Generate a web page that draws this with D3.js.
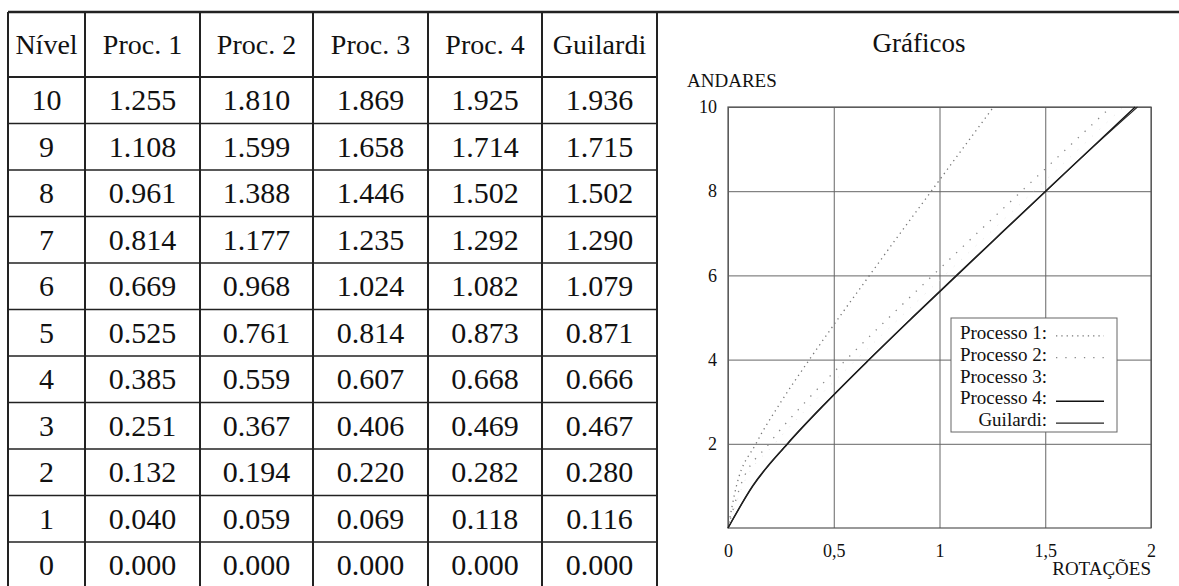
<!DOCTYPE html>
<html lang="pt">
<head>
  <meta charset="UTF-8">
  <title>Rotações por nível</title>
  <style>
    body { margin: 0; background: #fff; }
    svg { display: block; font-family: "Liberation Serif", "Times New Roman", serif; }
    .cell { font-size: 30px; fill: #111; }
    .cell.head { font-size: 28px; }
    .tline { stroke: #222; }
    .grid line { stroke: #666; stroke-width: 1px; }
    .grid path { display: none; }
    .tick text { font-size: 18px; fill: #111; font-family: "Liberation Serif", serif; }
    .legend text { font-size: 19px; fill: #111; }
  </style>
</head>
<body>
  <svg width="1179" height="586"></svg>
  <script src="https://d3js.org/d3.v7.min.js"></script>
  <script>
    // table data
    const headers = ["Nível", "Proc. 1", "Proc. 2", "Proc. 3", "Proc. 4", "Guilardi"];
    const levels = [10, 9, 8, 7, 6, 5, 4, 3, 2, 1, 0];
    const proc1 = [1.255, 1.108, 0.961, 0.814, 0.669, 0.525, 0.385, 0.251, 0.132, 0.040, 0.000];
    const proc2 = [1.810, 1.599, 1.388, 1.177, 0.968, 0.761, 0.559, 0.367, 0.194, 0.059, 0.000];
    const proc3 = [1.869, 1.658, 1.446, 1.235, 1.024, 0.814, 0.607, 0.406, 0.220, 0.069, 0.000];
    const proc4 = [1.925, 1.714, 1.502, 1.292, 1.082, 0.873, 0.668, 0.469, 0.282, 0.118, 0.000];
    const guilardi = [1.936, 1.715, 1.502, 1.290, 1.079, 0.871, 0.666, 0.467, 0.280, 0.116, 0.000];
    const seriesNames = ["Processo 1:", "Processo 2:", "Processo 3:", "Processo 4:", "Guilardi:"];
    const xTicks = [0, 0.5, 1, 1.5, 2];
    const yTicks = [2, 4, 6, 8, 10];

    const columns = [levels, proc1, proc2, proc3, proc4, guilardi];
    const svg = d3.select("svg");

    // ---------- table ----------
    const tableTop = 12, headBottom = 77, rowH = 46.5;
    const colEdges = [8, 85, 200, 313, 428, 542, 657];
    const rowY = d3.scaleBand().domain(d3.range(levels.length))
      .range([headBottom, headBottom + rowH * levels.length]);
    const fmt = d3.format(".3f");

    const table = svg.append("g");
    // top rule across the whole page
    table.append("line").attr("class", "tline")
      .attr("x1", colEdges[0]).attr("x2", 1179).attr("y1", tableTop).attr("y2", tableTop)
      .attr("stroke-width", 2.5);
    // header rule
    table.append("line").attr("class", "tline")
      .attr("x1", colEdges[0]).attr("x2", colEdges[6]).attr("y1", headBottom).attr("y2", headBottom)
      .attr("stroke-width", 2.2);
    // row rules
    table.selectAll("line.row").data(d3.range(1, levels.length)).join("line")
      .attr("class", "tline row")
      .attr("x1", colEdges[0]).attr("x2", colEdges[6])
      .attr("y1", i => rowY(i)).attr("y2", i => rowY(i))
      .attr("stroke", "#444").attr("stroke-width", 1.4);
    // column rules
    table.selectAll("line.col").data(colEdges).join("line")
      .attr("class", "tline col")
      .attr("x1", d => d).attr("x2", d => d)
      .attr("y1", tableTop).attr("y2", 586)
      .attr("stroke-width", 2);

    const colMid = i => (colEdges[i] + colEdges[i + 1]) / 2;
    table.selectAll("text.head").data(headers).join("text")
      .attr("class", "cell head")
      .attr("x", (d, i) => colMid(i)).attr("y", (tableTop + headBottom) / 2 + 9)
      .attr("text-anchor", "middle")
      .text(d => d);
    columns.forEach((col, c) => {
      table.selectAll("text.c" + c).data(col).join("text")
        .attr("class", "cell c" + c)
        .attr("x", colMid(c))
        .attr("y", (d, i) => rowY(i) + rowH / 2 + 10)
        .attr("text-anchor", "middle")
        .text(d => c === 0 ? d : fmt(d));
    });

    // ---------- chart ----------
    const plotL = 728, plotR = 1151, plotT = 107, plotB = 528;
    const x = d3.scaleLinear().domain([0, 2]).range([plotL, plotR]);
    const y = d3.scaleLinear().domain([0, 10]).range([plotB, plotT]);
    const pt = d3.formatLocale({ decimal: ",", thousands: ".", grouping: [3], currency: ["", ""] }).format(".1~f");

    const chart = svg.append("g");
    chart.append("text").attr("x", 919).attr("y", 52).attr("text-anchor", "middle")
      .attr("font-size", 27).attr("fill", "#111").text("Gráficos");
    chart.append("text").attr("x", 687).attr("y", 87)
      .attr("font-size", 19).attr("fill", "#111").text("ANDARES");
    chart.append("text").attr("x", plotR).attr("y", 575).attr("text-anchor", "end")
      .attr("font-size", 19).attr("fill", "#111").text("ROTAÇÕES");

    // grid + y labels
    chart.append("g").attr("class", "grid")
      .attr("transform", `translate(${plotL},0)`)
      .call(d3.axisLeft(y).tickValues(yTicks).tickSize(-(plotR - plotL)).tickPadding(11))
      .call(g => g.selectAll(".tick text").attr("dy", "0.32em"));
    chart.append("g").attr("class", "grid")
      .attr("transform", `translate(0,${plotB})`)
      .call(d3.axisBottom(x).tickValues(xTicks).tickSize(-(plotB - plotT)).tickPadding(16).tickFormat(pt));
    // plot frame
    chart.append("rect").attr("x", plotL).attr("y", plotT)
      .attr("width", plotR - plotL).attr("height", plotB - plotT)
      .attr("fill", "none").attr("stroke", "#555").attr("stroke-width", 1.2);

    const styles = [
      { stroke: "#777", width: 1.3, dash: "1.3,4" },
      { stroke: "#888", width: 1.3, dash: "1.3,8" },
      { stroke: "#e6e6e6", width: 1, dash: "1,9" },
      { stroke: "#111", width: 1.4, dash: null },
      { stroke: "#222", width: 1.2, dash: null }
    ];
    const series = [proc1, proc2, proc3, proc4, guilardi];
    const line = d3.line()
      .x(d => x(d[0])).y(d => y(d[1]))
      .curve(d3.curveMonotoneX);
    series.forEach((vals, s) => {
      const pts = vals.map((v, i) => [v, levels[i]]).reverse();
      chart.append("path").datum(pts)
        .attr("d", line)
        .attr("fill", "none")
        .attr("stroke", styles[s].stroke)
        .attr("stroke-width", styles[s].width)
        .attr("stroke-dasharray", styles[s].dash);
    });

    // legend
    const lg = chart.append("g").attr("class", "legend");
    lg.append("rect").attr("x", 951).attr("y", 318).attr("width", 166).attr("height", 114)
      .attr("fill", "#fff").attr("stroke", "#666").attr("stroke-width", 1);
    const legendY = d3.scaleBand().domain(d3.range(seriesNames.length)).range([322, 431]);
    seriesNames.forEach((name, s) => {
      const cy = legendY(s) + legendY.bandwidth() / 2;
      lg.append("text").attr("x", 1047).attr("y", cy + 6)
        .attr("text-anchor", "end").text(name);
      if (s !== 2) {
        lg.append("line").attr("x1", 1056).attr("x2", 1104)
          .attr("y1", cy + 3).attr("y2", cy + 3)
          .attr("stroke", styles[s].stroke).attr("stroke-width", styles[s].width)
          .attr("stroke-dasharray", styles[s].dash);
      }
    });
  </script>
</body>
</html>
